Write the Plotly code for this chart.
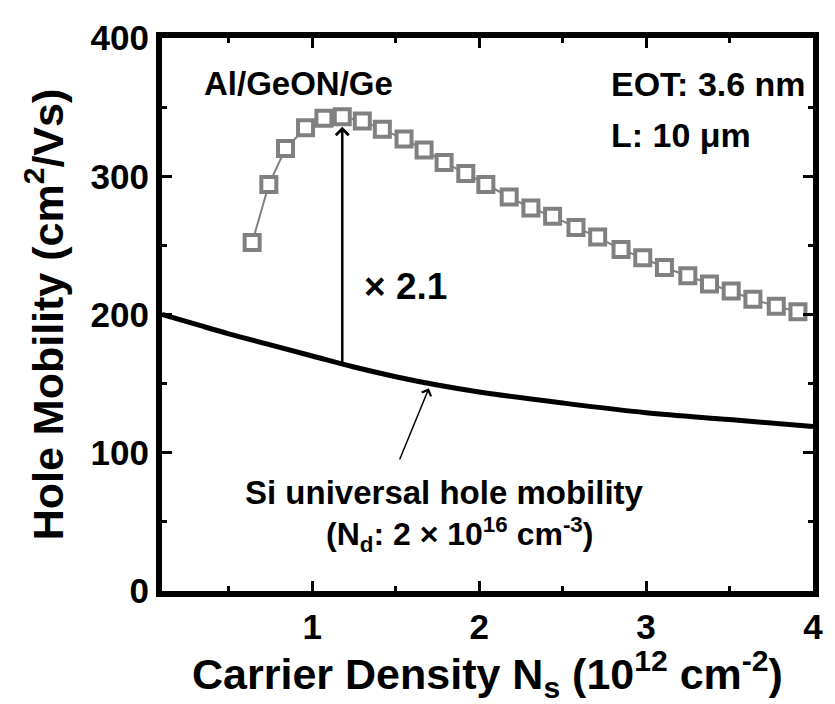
import numpy as np
import plotly.graph_objects as go

# Al/GeON/Ge pMOSFET effective hole mobility vs. inversion carrier density
ns_ge = [0.64, 0.74, 0.84, 0.96, 1.07, 1.18, 1.30, 1.42, 1.55, 1.67, 1.79,
         1.92, 2.04, 2.18, 2.31, 2.44, 2.58, 2.71, 2.85, 2.98, 3.11, 3.25,
         3.38, 3.51, 3.64, 3.78, 3.91]
mu_ge = [252, 294, 320, 335, 342, 343, 340, 334, 327, 319, 310,
         302, 294, 285, 277, 271, 263, 256, 247, 241, 234, 228,
         222, 217, 211, 206, 202]

# Si universal hole mobility (Nd = 2e16 cm^-3)
ns_si = [0.1, 0.3, 0.5, 0.75, 1.0, 1.25, 1.5, 1.75, 2.0, 2.5, 3.0, 3.5, 4.0]
mu_si = [200, 193, 186, 178, 170, 162, 155, 149, 144, 136, 129, 124, 119]

x_ticks = [1, 2, 3, 4]
y_ticks = [0, 100, 200, 300, 400]

FONT = "Liberation Sans, Arial, sans-serif"
GRAY = "#808080"

fig = go.Figure()

fig.add_trace(go.Scatter(
    x=ns_si, y=mu_si, mode="lines", line=dict(color="black", width=5, shape="spline"),
    showlegend=False, hoverinfo="skip"))

fig.add_trace(go.Scatter(
    x=ns_ge, y=mu_ge, mode="lines+markers",
    line=dict(color=GRAY, width=2),
    marker=dict(symbol="square", size=15, color="white",
                line=dict(color=GRAY, width=4)),
    showlegend=False))

# enhancement arrow from the Si curve up to the Ge peak
i_peak = int(np.argmax(mu_ge))
x_peak = ns_ge[i_peak]
mu_peak = mu_ge[i_peak]
mu_si_at_peak = float(np.interp(x_peak, ns_si, mu_si))

annotations = [
    dict(x=x_peak, y=mu_peak, ax=x_peak, ay=mu_si_at_peak, xref="x", yref="y",
         axref="x", ayref="y", showarrow=True, arrowhead=4, arrowsize=1,
         arrowwidth=2.5, arrowcolor="black", standoff=10, startstandoff=0, text=""),
    dict(x=1.30, y=220, xref="x", yref="y", xanchor="left", yanchor="middle",
         showarrow=False, text="<b>\u00d7 2.1</b>", font=dict(size=37, family=FONT, color="black")),
    dict(x=0.92, y=367, xref="x", yref="y", xanchor="center", yanchor="middle",
         showarrow=False, text="<b>Al/GeON/Ge</b>", font=dict(size=33, family=FONT, color="black")),
    dict(x=2.78, y=367, xref="x", yref="y", xanchor="left", yanchor="middle",
         showarrow=False, text="<b>EOT: 3.6 nm</b>", font=dict(size=34, family=FONT, color="black")),
    dict(x=2.78, y=330, xref="x", yref="y", xanchor="left", yanchor="middle",
         showarrow=False, text="<b>L: 10 \u03bcm</b>", font=dict(size=34, family=FONT, color="black")),
]

# pointer to the Si reference curve
x_ptr = 1.71
annotations.append(dict(
    x=x_ptr, y=float(np.interp(x_ptr, ns_si, mu_si)), ax=1.52, ay=94,
    xref="x", yref="y", axref="x", ayref="y", showarrow=True, arrowhead=4,
    arrowsize=1.3, arrowwidth=1.5, arrowcolor="black", standoff=5, text=""))
annotations.append(dict(
    x=1.79, y=71, xref="x", yref="y", xanchor="center", yanchor="middle", showarrow=False,
    text="<b>Si universal hole mobility</b>", font=dict(size=33, family=FONT, color="black")))
annotations.append(dict(
    x=1.88, y=41, xref="x", yref="y", xanchor="center", yanchor="middle", showarrow=False,
    text="<b>(N<sub>d</sub>: 2 \u00d7 10<sup>16</sup> cm<sup>-3</sup>)</b>",
    font=dict(size=32, family=FONT, color="black")))

axis_common = dict(
    showline=True, linewidth=6, linecolor="black", mirror="allticks",
    ticks="inside", ticklen=10, tickwidth=3, tickcolor="black",
    showgrid=False, zeroline=False,
    tickfont=dict(size=35, family=FONT, color="black"),
)

fig.update_layout(
    width=835, height=704,
    margin=dict(l=162, r=16, t=38, b=113),
    paper_bgcolor="white", plot_bgcolor="white",
    font=dict(family=FONT, color="black"),
    annotations=annotations,
    xaxis=dict(
        range=[0.1, 4], tickmode="array", tickvals=x_ticks,
        ticktext=[f"<b>{v}</b>" for v in x_ticks],
        minor=dict(dtick=0.5, tick0=0, ticks="inside", ticklen=5, tickwidth=3, tickcolor="black"),
        title=dict(text="<b>Carrier Density N<sub>s</sub> (10<sup>12</sup> cm<sup>-2</sup>)</b>",
                   font=dict(size=43, family=FONT, color="black"), standoff=0),
        **axis_common),
    yaxis=dict(
        range=[0, 400], tickmode="array", tickvals=y_ticks,
        ticktext=[f"<b>{v}</b>" for v in y_ticks],
        minor=dict(dtick=50, tick0=0, ticks="inside", ticklen=5, tickwidth=3, tickcolor="black"),
        title=dict(text="<b>Hole Mobility (cm<sup>2</sup>/Vs)</b>",
                   font=dict(size=43, family=FONT, color="black"), standoff=16),
        **axis_common),
)

fig.write_html("out.html")
